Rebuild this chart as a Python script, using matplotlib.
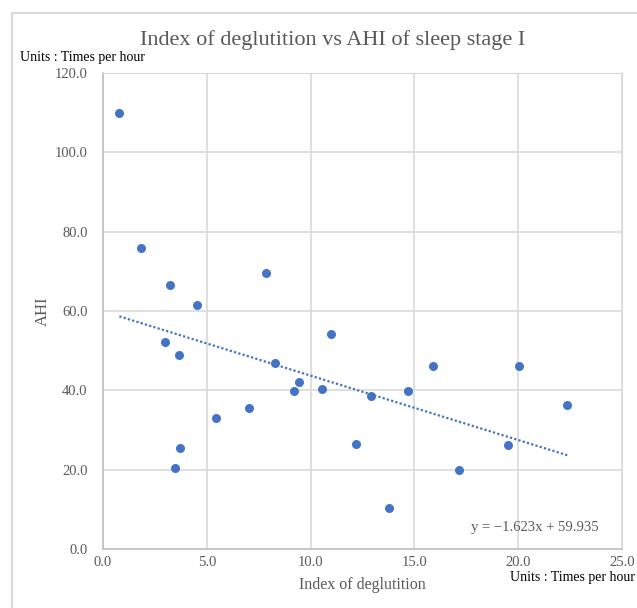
import numpy as np
import matplotlib
matplotlib.use('Agg')
from matplotlib import pyplot as plt
from matplotlib.patches import Rectangle

plt.rcParams['font.family'] = ['Liberation Serif', 'DejaVu Serif']

# Index of deglutition (x) vs AHI (y)
deglutition = [0.79, 1.81, 3.21, 4.54, 2.99, 3.65, 3.71, 3.45, 5.44, 7.05,
               7.87, 8.30, 9.43, 9.19, 10.53, 10.98, 12.17, 12.91, 13.78,
               14.67, 15.92, 17.15, 19.52, 20.04, 22.37]
ahi = [109.8, 75.8, 66.5, 61.4, 52.3, 48.8, 25.5, 20.5, 33.0, 35.5,
       69.5, 46.8, 42.2, 39.9, 40.3, 54.3, 26.5, 38.6, 10.4,
       39.9, 46.1, 19.9, 26.3, 46.1, 36.4]
slope, intercept = -1.623, 59.935
xticks = [0, 5, 10, 15, 20, 25]
yticks = [0, 20, 40, 60, 80, 100, 120]

BLUE = '#4472c4'
GRID = '#d9d9d9'
GREY = '#595959'

fig = plt.figure(figsize=(6.37, 6.08), dpi=100)
ax = fig.add_axes([103 / 637, 1 - 549 / 608, 519 / 637, 476 / 608])

# outer chart border
fig.patches.append(Rectangle((12 / 637, -0.1), 2, 1 - 13 / 608 + 0.1,
                             transform=fig.transFigure, fill=False,
                             edgecolor=GRID, lw=1.5))

ax.scatter(deglutition, ahi, s=42, color=BLUE, zorder=3, linewidths=0)
xl = np.array([min(deglutition), max(deglutition)])
ax.plot(xl, slope * xl + intercept, color=BLUE, lw=1.6,
        linestyle=(0, (1, 1)), zorder=2)

ax.set_xlim(0, 25)
ax.set_ylim(0, 120)
ax.set_xticks(xticks)
ax.set_yticks(yticks)
ax.set_xticklabels(['%.1f' % v for v in xticks])
ax.set_yticklabels(['%.1f' % v for v in yticks])
ax.tick_params(length=0, labelsize=10.5, labelcolor=GREY)
ax.tick_params(axis='y', pad=11)
ax.tick_params(axis='x', pad=5)
ax.grid(True, color=GRID, lw=1.2)
ax.set_axisbelow(True)
for s in ['top', 'right']:
    ax.spines[s].set_color(GRID)
for s in ['left', 'bottom']:
    ax.spines[s].set_color('#bfbfbf')
    ax.spines[s].set_linewidth(1.2)

ax.set_xlabel('Index of deglutition', fontsize=11.5, color=GREY, labelpad=6)
ax.set_ylabel('AHI', fontsize=12, color=GREY, labelpad=3)
fig.text(333 / 637, 1 - 40 / 608, 'Index of deglutition vs AHI of sleep stage I',
         fontsize=16, color=GREY, ha='center', va='center')
fig.text(20 / 637, 1 - 58 / 608, 'Units : Times per hour', fontsize=10,
         ha='left', va='center')
fig.text(635 / 637, 1 - 577 / 608, 'Units : Times per hour', fontsize=10,
         ha='right', va='center')
ax.text(535 / 637, 1 - 528 / 608, 'y = \u22121.623x + 59.935',
        transform=fig.transFigure, fontsize=10.5, color=GREY,
        ha='center', va='center')

fig.savefig('out.png', dpi=100)
